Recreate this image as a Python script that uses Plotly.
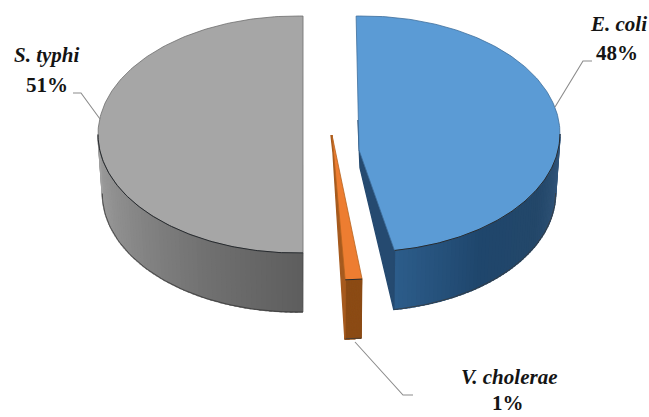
import numpy as np
import plotly.graph_objects as go

# Composition of isolates, in percent
species = ["E. coli", "V. cholerae", "S. typhi"]
shares = [48, 1, 51]

# Direction each wedge points in (degrees clockwise from the top of the disc)
mid_angles = [84.4, 175.4, 270.0]

WIDTH, HEIGHT = 649, 417
DEPTH = 59          # height of the disc on the page
TAPER = 0.978       # the lower rim looks slightly narrower than the upper one

# Per-wedge drawing geometry: rim centre, rim radii and wedge tip
wedge_style = {
    "E. coli": dict(cx=363, cy=134, rx=197, ry=118, tip=(359, 150), top="#5b9bd5", edge="#3f6f9c",
                    wall=["#35587e", "#234769", "#1f466c", "#2c5c8a"], inner="#254a70"),
    "V. cholerae": dict(cx=332, cy=135, rx=270, ry=145, tip=(332, 135), top="#ed7d31", edge="#b8641f",
                        wall=["#8c4c16", "#8c4c16"], inner="#a65a1e"),
    "S. typhi": dict(cx=296.8, cy=134.5, rx=198.8, ry=118.5, tip=(303, 135), top="#a6a6a6", edge="#6e6e6e",
                     wall=["#5e5e5e", "#727272", "#8a8a8a", "#a0a0a0"], inner="#5e5e5e"),
}

# Label blocks: name, percentage, and the elbow of each leader line
label_pos = {
    "E. coli": dict(name=(618, 24), pct=(617, 53), leader=[(592, 61), (583, 61), (555, 107)]),
    "V. cholerae": dict(name=(509, 377), pct=(508, 403), leader=[(413, 395), (403, 395), (355, 342)]),
    "S. typhi": dict(name=(47, 55), pct=(47, 85), leader=[(73, 93), (81, 93), (100, 119)]),
}


def rim(st, deg, depth=0.0, scale=1.0):
    t = np.radians(deg)
    x = st["cx"] + st["rx"] * scale * np.sin(t)
    y = st["cy"] - st["ry"] * np.cos(t) + depth
    return x, y


def mix(stops, f):
    rgb = [tuple(int(c[i:i + 2], 16) for i in (1, 3, 5)) for c in stops]
    pos = f * (len(rgb) - 1)
    i = min(int(pos), len(rgb) - 2)
    w = pos - i
    vals = [round(a + (b - a) * w) for a, b in zip(rgb[i], rgb[i + 1])]
    return "rgb({},{},{})".format(*vals)


def poly(fig, xs, ys, fill, line=None, width=0.0):
    fig.add_trace(go.Scatter(
        x=list(xs), y=list(ys), mode="lines", fill="toself", fillcolor=fill,
        line=dict(color=line or fill, width=width if line else 1.4),
        hoverinfo="skip", showlegend=False,
    ))


def stroke(fig, xs, ys, color, width):
    fig.add_trace(go.Scatter(
        x=list(xs), y=list(ys), mode="lines", line=dict(color=color, width=width),
        hoverinfo="skip", showlegend=False,
    ))


def draw_wedge(fig, name, share, mid):
    st = wedge_style[name]
    sweep = share * 3.6
    a0, a1 = mid - sweep / 2, mid + sweep / 2
    tx, ty = st["tip"]

    # Wall along the part of the rim that faces the viewer; bands overlap to hide seams
    lo, hi = max(a0, 90.0), min(a1, 270.0)
    edges = np.linspace(lo, hi, 61)
    step = edges[1] - edges[0]
    for n in range(len(edges) - 1):
        seg = np.linspace(edges[n], min(edges[n + 1] + step * 0.4, hi), 3)
        ux, uy = rim(st, seg)
        bx, by = rim(st, seg[::-1], DEPTH, TAPER)
        poly(fig, np.r_[ux, bx], np.r_[uy, by], mix(st["wall"], n / (len(edges) - 2)))
    bx, by = rim(st, edges, DEPTH, TAPER)
    stroke(fig, bx, by, "#3a3a3a", 0.8)

    # Cut face that stays visible beside the wedge tip
    if name != "S. typhi":
        ex, ey = rim(st, a1)
        ex2, ey2 = rim(st, a1, DEPTH, TAPER)
        notch = ty - 30 if name == "E. coli" else ty
        poly(fig, [tx, ex, ex2, tx + 1, tx - 1], [ty, ey, ey2, ty + DEPTH * 0.3, notch], st["inner"])
    else:
        ex0, ey0 = rim(st, a0)
        ex2, ey2 = rim(st, a0, DEPTH, TAPER)
        stroke(fig, [ex0, ex2], [ey0, ey2], "#444444", 0.8)

    # Upper face, with a darker line along the front of the rim
    arc = np.linspace(a0, a1, 180)
    fx, fy = rim(st, arc)
    poly(fig, np.r_[tx, fx, tx], np.r_[ty, fy, ty], st["top"], st["edge"], 0.8)
    front = np.linspace(lo, hi, 120)
    fx, fy = rim(st, front)
    stroke(fig, fx, fy, "#262a2e", 1.0)


fig = go.Figure()
for name, share, mid in sorted(zip(species, shares, mid_angles), key=lambda r: r[0] != "S. typhi"):
    draw_wedge(fig, name, share, mid)

annotations = []
for name, share in zip(species, shares):
    pos = label_pos[name]
    xs, ys = zip(*pos["leader"])
    stroke(fig, xs, ys, "#8c8c8c", 1.1)
    for text, (px, py) in ((f"<b><i>{name}</i></b>", pos["name"]), (f"<b>{share}%</b>", pos["pct"])):
        annotations.append(dict(x=px, y=py, text=text, showarrow=False, xanchor="center", yanchor="middle",
                                borderpad=0, font=dict(family="Liberation Serif", size=21, color="#141414")))

fig.update_layout(
    width=WIDTH, height=HEIGHT, margin=dict(l=0, r=0, t=0, b=0),
    paper_bgcolor="white", plot_bgcolor="white", showlegend=False,
    xaxis=dict(range=[0, WIDTH], visible=False, fixedrange=True),
    yaxis=dict(range=[HEIGHT, 0], visible=False, fixedrange=True),
    annotations=annotations,
)
fig.write_html("out.html", config={"displayModeBar": False})
